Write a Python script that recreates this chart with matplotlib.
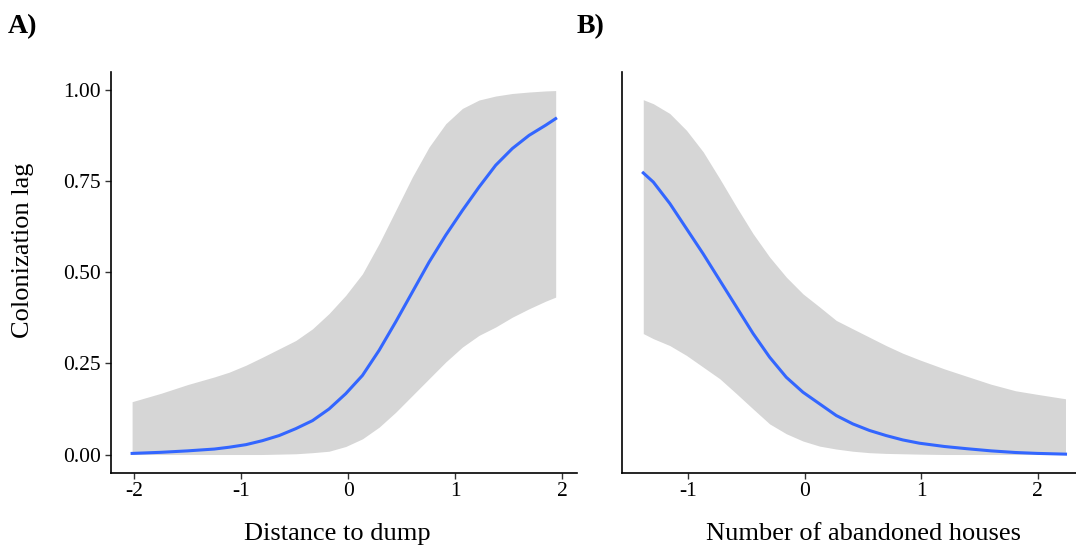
import matplotlib.pyplot as plt
import numpy as np

plt.rcParams['font.family'] = ['Liberation Serif', 'DejaVu Serif']
plt.rcParams['axes.unicode_minus'] = False

# Panel A: distance to dump
dist_x = [-2.02, -1.75, -1.5, -1.25, -1.112, -0.956, -0.801, -0.645, -0.489, -0.333,
          -0.178, -0.022, 0.134, 0.290, 0.445, 0.601, 0.757, 0.913, 1.069, 1.224,
          1.380, 1.536, 1.692, 1.848, 1.941]
dist_fit = [0.003, 0.006, 0.010, 0.015, 0.020, 0.027, 0.038, 0.052, 0.071, 0.093,
            0.125, 0.167, 0.217, 0.286, 0.364, 0.446, 0.528, 0.602, 0.670, 0.734,
            0.794, 0.840, 0.876, 0.904, 0.922]
dist_hi = [0.145, 0.168, 0.192, 0.213, 0.226, 0.245, 0.267, 0.290, 0.313, 0.345,
           0.387, 0.437, 0.496, 0.579, 0.670, 0.762, 0.844, 0.908, 0.950, 0.973,
           0.984, 0.991, 0.995, 0.998, 0.999]
dist_lo = [0.0, 0.0, 0.0, 0.0, 0.0, 0.0, 0.0, 0.001, 0.002, 0.005,
           0.009, 0.022, 0.043, 0.075, 0.116, 0.162, 0.208, 0.254, 0.295, 0.327,
           0.350, 0.377, 0.400, 0.421, 0.432]

# Panel B: number of abandoned houses
house_x = [-1.385, -1.299, -1.157, -1.014, -0.871, -0.728, -0.585, -0.442, -0.300, -0.157,
           -0.014, 0.129, 0.272, 0.414, 0.557, 0.700, 0.843, 0.986, 1.2, 1.39,
           1.6, 1.81, 2.0, 2.24]
house_fit = [0.773, 0.748, 0.689, 0.620, 0.551, 0.478, 0.405, 0.332, 0.267, 0.212,
             0.171, 0.139, 0.107, 0.084, 0.066, 0.052, 0.040, 0.031, 0.022, 0.016,
             0.010, 0.0055, 0.003, 0.001]
house_hi = [0.974, 0.963, 0.936, 0.890, 0.831, 0.757, 0.680, 0.606, 0.542, 0.487,
            0.441, 0.405, 0.368, 0.345, 0.322, 0.299, 0.278, 0.260, 0.235, 0.215,
            0.193, 0.175, 0.165, 0.153]
house_lo = [0.332, 0.318, 0.299, 0.272, 0.240, 0.208, 0.167, 0.125, 0.084, 0.057,
            0.037, 0.023, 0.015, 0.009, 0.005, 0.003, 0.002, 0.001, 0.0, 0.0,
            0.0, 0.0, 0.0, 0.0]

band_col = '#d6d6d6'
line_col = '#3366ff'

fig = plt.figure(figsize=(10.76, 5.47), dpi=100)
ax1 = fig.add_axes([0.1029, 0.1358, 0.4333, 0.7326])
ax2 = fig.add_axes([0.5778, 0.1358, 0.4330, 0.7326])

def style(ax):
    for s in ['top', 'right']:
        ax.spines[s].set_visible(False)
    for s in ['left', 'bottom']:
        ax.spines[s].set_linewidth(1.2)
    ax.tick_params(length=4, width=1, color='#333333', labelsize=15.5,
                   labelcolor='black', pad=3)
    ax.set_ylim(-0.05, 1.05)

ax1.fill_between(dist_x, dist_lo, dist_hi, color=band_col, lw=0)
ax1.plot(dist_x, dist_fit, color=line_col, lw=2.2, solid_joinstyle='round')
style(ax1)
ax1.set_xlim(-2.22, 2.14)
ax1.set_xticks([-2, -1, 0, 1, 2])
ax1.set_yticks([0, 0.25, 0.5, 0.75, 1.0])
ax1.set_yticklabels(['0.00', '0.25', '0.50', '0.75', '1.00'])
ax1.set_xlabel('Distance to dump', fontsize=19)
ax1.xaxis.set_label_coords(0.487, -0.125)
ax1.set_ylabel('Colonization lag', fontsize=19)
ax1.yaxis.set_label_coords(-0.165, 0.555)

ax2.fill_between(house_x, house_lo, house_hi, color=band_col, lw=0)
ax2.plot(house_x, house_fit, color=line_col, lw=2.2, solid_joinstyle='round')
style(ax2)
ax2.set_xlim(-1.57, 2.43)
ax2.set_xticks([-1, 0, 1, 2])
ax2.set_yticks([])
ax2.set_xlabel('Number of abandoned houses', fontsize=19)
ax2.xaxis.set_label_coords(0.52, -0.125)

fig.text(0.007, 0.952, 'A)', fontsize=20, fontweight='bold', va='center')
fig.text(0.536, 0.952, 'B)', fontsize=20, fontweight='bold', va='center')

fig.savefig('out.png', dpi=100)
